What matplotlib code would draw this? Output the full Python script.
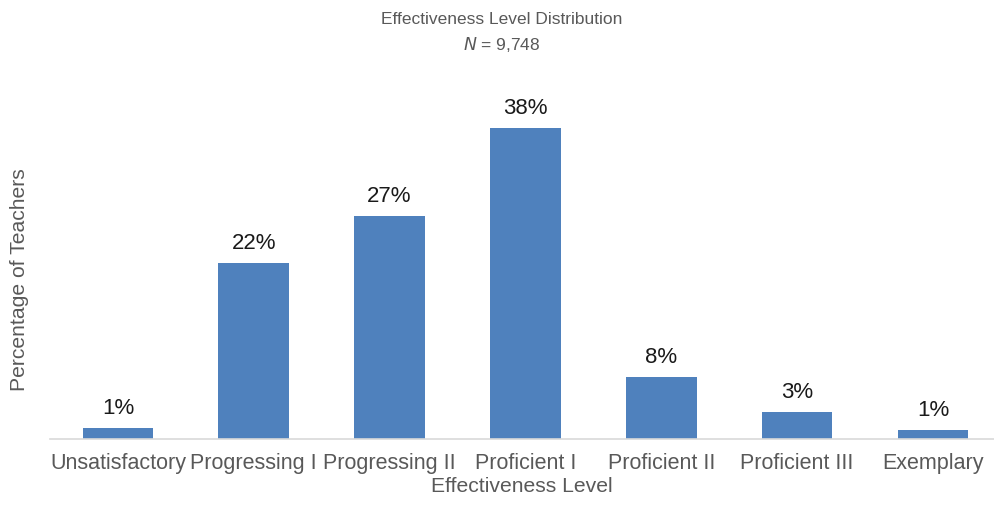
import matplotlib
matplotlib.use("Agg")
import matplotlib.pyplot as plt

categories = ["Unsatisfactory", "Progressing I", "Progressing II", "Proficient I",
              "Proficient II", "Proficient III", "Exemplary"]
values = [1.3, 21.5, 27.3, 38.0, 7.6, 3.3, 1.1]
labels = ["1%", "22%", "27%", "38%", "8%", "3%", "1%"]

plt.rcParams['font.family'] = ['Liberation Sans', 'DejaVu Sans']

fig = plt.figure(figsize=(9.94, 5.08), dpi=100)
ax = fig.add_axes([50/994, 69/508, 944/994, (439-112)/508])

x = list(range(len(categories)))
ax.bar(x, values, width=0.52, color="#4F81BD")
for xi, v, lab in zip(x, values, labels):
    ax.text(xi, v + 2.4, lab, ha="center", va="center", fontsize=16, color="#1a1a1a")

ax.set_xlim(-0.5, 6.45)
ax.set_ylim(0, 40)
ax.set_xticks(x)
ax.set_xticklabels(categories, fontsize=15.5, color="#595959")
ax.tick_params(axis='x', length=0, pad=10)
ax.set_yticks([])
for s in ["top", "right", "left"]:
    ax.spines[s].set_visible(False)
ax.spines["bottom"].set_color("#D9D9D9")
ax.spines["bottom"].set_linewidth(1.2)

ax.set_xlabel("Effectiveness Level", fontsize=15.2, color="#595959", labelpad=2)
fig.text(20/994, 1 - 280/508, "Percentage of Teachers", rotation=90,
         ha="center", va="center", fontsize=15.2, color="#595959")

fig.text(502/994, 1 - 20/508, "Effectiveness Level Distribution", ha="center", va="center",
         fontsize=12.5, color="#595959")
fig.text(502/994, 1 - 44/508, r"$\mathit{N}$ = 9,748", ha="center", va="center",
         fontsize=12.5, color="#595959")

fig.savefig("out.png", dpi=100)
